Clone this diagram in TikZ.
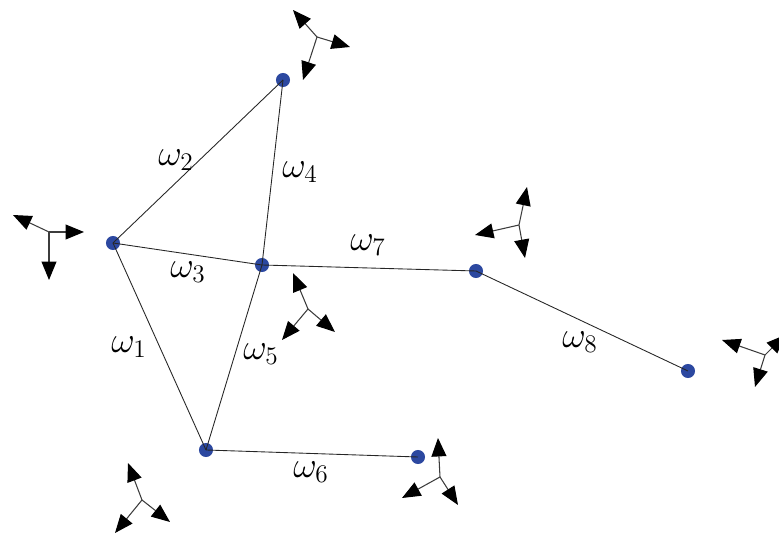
\documentclass[tikz,border=0pt]{standalone}
\usepackage{amsmath,amssymb}
\usepackage{xcolor}
\definecolor{nodeblue}{RGB}{44, 72, 160}
\definecolor{shaftgray}{RGB}{60, 60, 60}
\usetikzlibrary{arrows.meta, positioning}

\begin{document}
\begin{tikzpicture}[
    x=0.02cm, y=-0.02cm,
    >={Triangle[length=10.5pt, width=8.5pt, color=black]},
    point/.style={circle, fill=nodeblue, minimum size=8pt, inner sep=0pt},
    edge/.style={line width=0.5pt, black!85},
    triad/.style={->, line width=0.6pt, shaftgray},
    lbl/.style={font=\huge}
]
\useasboundingbox (0,0) rectangle (779,536);

% Nodos
\node[point] (a) at (113,243) {};
\node[point] (b) at (283,80) {};
\node[point] (c) at (262,265) {};
\node[point] (d) at (476,271) {};
\node[point] (e) at (688,371) {};
\node[point] (f) at (206,450) {};
\node[point] (g) at (418,457) {};

% Aristas
\draw[edge] (a.center) -- (b.center);
\draw[edge] (a.center) -- (c.center);
\draw[edge] (b.center) -- (c.center);
\draw[edge] (a.center) -- (f.center);
\draw[edge] (c.center) -- (f.center);
\draw[edge] (c.center) -- (d.center);
\draw[edge] (d.center) -- (e.center);
\draw[edge] (f.center) -- (g.center);

% Pesos
\node[lbl] (w1) at (129,347) {$\omega_1$};
\node[lbl] (w2) at (176,160) {$\omega_2$};
\node[lbl] (w3) at (188,272) {$\omega_3$};
\node[lbl] (w4) at (300,172) {$\omega_4$};
\node[lbl] (w5) at (261,354) {$\omega_5$};
\node[lbl] (w6) at (311,472) {$\omega_6$};
\node[lbl] (w7) at (368,245) {$\omega_7$};
\node[lbl] (w8) at (580,342) {$\omega_8$};

% Triedros
\foreach \n/\x/\y/\ax/\ay/\bx/\by/\cx/\cy in {
    t1/317/37/-24/-27/33/10/-14/43,
    t2/49/232/-36/-17/35/0/0/48,
    t3/519/225/8/-38/-44/10/6/33,
    t4/308/309/-15/-36/-26/31/27/23,
    t5/765/355/-43/-15/-10/32/20/-20,
    t6/440/477/-2/-39/-38/21/18/28,
    t7/142/500/-14/-37/-27/33/28/22} {
    \coordinate (\n) at (\x,\y);
    \draw[triad] (\n) -- ++(\ax,\ay);
    \draw[triad] (\n) -- ++(\bx,\by);
    \draw[triad] (\n) -- ++(\cx,\cy);
}

\end{tikzpicture}
\end{document}
